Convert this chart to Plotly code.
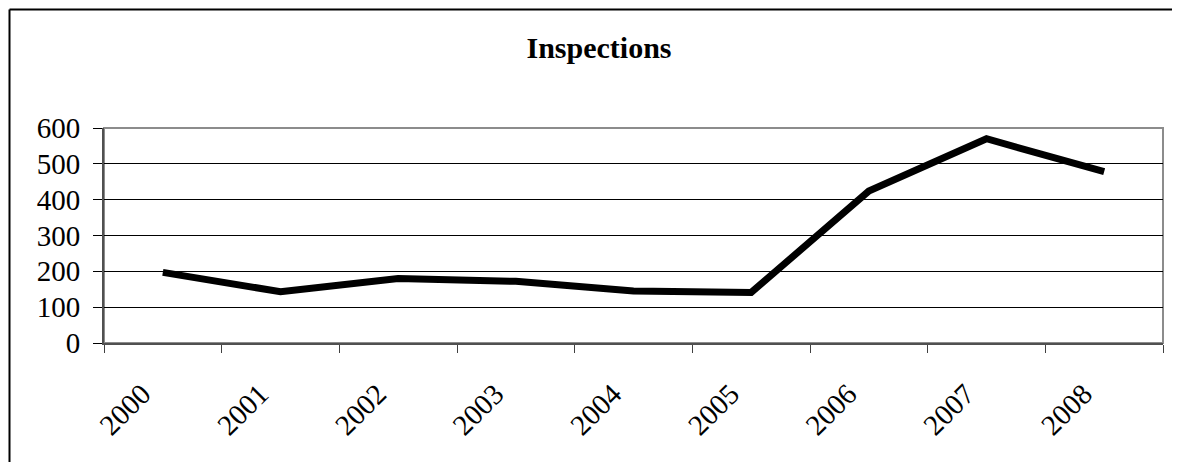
"""Inspections per year, Excel-style line chart."""

import plotly.graph_objects as go

YEARS = ["2000", "2001", "2002", "2003", "2004", "2005", "2006", "2007", "2008"]
INSPECTIONS = [197, 143, 180, 172, 145, 141, 424, 570, 478]
Y_TICKS = [0, 100, 200, 300, 400, 500, 600]

FONT = "Liberation Serif"
# the page body adds an 8px margin, so the figure is sized to fit the window
WIDTH, HEIGHT = 1172, 454
MARGIN = {"l": 96, "r": 17, "t": 120, "b": 119}

plot_w = WIDTH - MARGIN["l"] - MARGIN["r"]
plot_h = HEIGHT - MARGIN["t"] - MARGIN["b"]


def px_to_paper_x(px: float) -> float:
    return (px - MARGIN["l"]) / plot_w


def px_to_paper_y(py: float) -> float:
    return (HEIGHT - MARGIN["b"] - py) / plot_h


fig = go.Figure()
fig.add_trace(
    go.Scatter(
        x=YEARS,
        y=INSPECTIONS,
        mode="lines",
        line={"color": "black", "width": 7},
        showlegend=False,
        hoverinfo="x+y",
    )
)

# plot area frame (grey) and the chart-area border (top and left visible)
frame = {"color": "#8c8c8c", "width": 2}
border = {"color": "black", "width": 2}
fig.update_layout(
    shapes=[
        {"type": "rect", "xref": "paper", "yref": "paper", "x0": 0, "y0": 0, "x1": 1, "y1": 1,
         "line": frame, "layer": "below"},
        {"type": "line", "xref": "paper", "yref": "paper",
         "x0": px_to_paper_x(1.5), "y0": px_to_paper_y(1.5),
         "x1": px_to_paper_x(WIDTH + 5), "y1": px_to_paper_y(1.5), "line": border},
        {"type": "line", "xref": "paper", "yref": "paper",
         "x0": px_to_paper_x(1.5), "y0": px_to_paper_y(1.5),
         "x1": px_to_paper_x(1.5), "y1": px_to_paper_y(HEIGHT + 5), "line": border},
    ]
)

fig.update_layout(
    width=WIDTH,
    height=HEIGHT,
    margin=MARGIN,
    paper_bgcolor="white",
    plot_bgcolor="white",
    font={"family": FONT, "color": "black", "size": 29},
    title={
        "text": "<b>Inspections</b>",
        "x": 591 / WIDTH,
        "xanchor": "center",
        "xref": "container",
        "y": 1 - 39 / HEIGHT,
        "yanchor": "middle",
        "yref": "container",
        "font": {"family": FONT, "size": 30, "color": "black"},
    },
)

# labels sit a little left of the category centre, as in Excel
pad = "\u00a0" * 4
fig.update_xaxes(
    type="category",
    range=[-0.5, len(YEARS) - 0.5],
    tickmode="array",
    tickvals=YEARS,
    ticktext=[year + pad for year in YEARS],
    tickson="boundaries",
    ticks="outside",
    ticklen=8,
    tickwidth=1,
    tickcolor="#404040",
    tickangle=-45,
    ticklabelstandoff=0,
    showline=True,
    linecolor="#505050",
    linewidth=2,
    showgrid=False,
    zeroline=False,
    tickfont={"family": FONT, "size": 29, "color": "black"},
    fixedrange=True,
)
fig.update_yaxes(
    range=[0, 600],
    tickvals=Y_TICKS,
    ticks="outside",
    ticklen=9,
    tickwidth=1,
    tickcolor="black",
    ticklabelstandoff=7,
    showline=True,
    linecolor="#505050",
    linewidth=2,
    showgrid=True,
    gridcolor="black",
    gridwidth=1,
    zeroline=False,
    tickfont={"family": FONT, "size": 29, "color": "black"},
    fixedrange=True,
)

fig.write_html("out.html")
